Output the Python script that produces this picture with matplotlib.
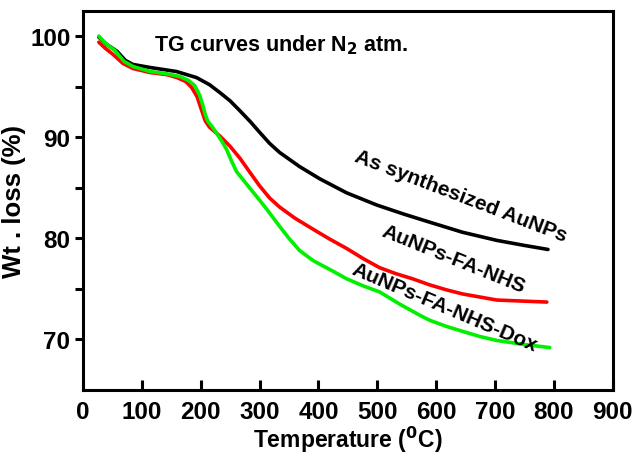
import numpy as np
import matplotlib.pyplot as plt

plt.rcParams['font.family'] = ['Liberation Sans', 'DejaVu Sans']
plt.rcParams['font.weight'] = 'bold'
plt.rcParams['mathtext.default'] = 'bf'

# As synthesized AuNPs
t_black = [27, 40, 58, 72, 85, 114, 159, 193, 215, 233, 250, 267, 285, 300, 317, 334, 351, 368,
           402, 448, 499, 545, 589, 645, 703, 750, 790]
w_black = [99.9, 99.2, 98.5, 97.6, 97.2, 96.9, 96.5, 95.9, 95.2, 94.4, 93.6, 92.6, 91.5, 90.5, 89.4,
           88.5, 87.8, 87.1, 85.9, 84.5, 83.3, 82.4, 81.6, 80.6, 79.8, 79.3, 78.9]

# AuNPs-FA-NHS
t_red = [27, 38, 51, 68, 85, 114, 142, 160, 175, 185, 194, 202, 208, 215, 233, 250, 267, 284, 300,
         317, 334, 360, 391, 420, 448, 476, 504, 532, 560, 589, 618, 645, 674, 703, 745, 788]
w_red = [99.4, 98.8, 98.2, 97.3, 96.8, 96.4, 96.2, 95.9, 95.5, 94.9, 94.0, 92.6, 91.6, 91.0, 90.1,
         89.1, 87.9, 86.5, 85.2, 84.0, 83.1, 82.0, 80.9, 79.9, 79.0, 78.0, 77.1, 76.5, 76.0, 75.4,
         74.9, 74.5, 74.2, 73.9, 73.8, 73.7]

# AuNPs-FA-NHS-Dox
t_green = [27, 38, 54, 70, 85, 114, 140, 165, 180, 190, 198, 204, 208, 212, 220, 227, 236, 244, 252,
           261, 272, 283, 297, 312, 334, 350, 368, 391, 420, 448, 476, 504, 538, 572, 589, 617, 645,
           674, 703, 750, 793]
w_green = [100.0, 99.3, 98.6, 97.5, 97.0, 96.5, 96.3, 96.0, 95.6, 95.1, 94.2, 93.1, 92.2, 91.6, 91.0,
           90.4, 89.6, 88.8, 87.7, 86.6, 85.8, 85.0, 84.0, 82.9, 81.2, 80.0, 78.8, 77.8, 76.9, 76.0,
           75.3, 74.7, 73.5, 72.4, 71.9, 71.3, 70.8, 70.3, 69.9, 69.5, 69.2]

labels = ["As synthesized AuNPs", "AuNPs-FA-NHS", "AuNPs-FA-NHS-Dox"]

fig = plt.figure(figsize=(6.33, 4.56), dpi=100)
ax = fig.add_axes([0.131, 0.1425, 0.837, 0.8315])

kw = dict(lw=2.6, solid_capstyle='round', solid_joinstyle='round')
ax.plot(t_black, w_black, color='black', **kw)
ax.plot(t_red, w_red, color='#ff0000', **kw)
ax.plot(t_green, w_green, color='#00f000', **kw)

ax.set_xlim(0, 900)
ax.set_ylim(65, 102.5)
ax.set_xticks(np.arange(0, 901, 100))
ax.set_yticks([70, 80, 90, 100])
ax.set_yticks([75, 85, 95], minor=True)

for s in ax.spines.values():
    s.set_linewidth(2.2)
ax.tick_params(axis='x', direction='in', length=7, width=2.2, labelsize=17.5, pad=7, top=False)
ax.tick_params(axis='y', which='both', direction='out', length=6, width=2.2, labelsize=17.5,
               right=False, pad=3)

ax.set_xlabel("Temperature ($^0$C)", fontsize=16.5, fontweight='bold', labelpad=1)
ax.set_ylabel("Wt . loss (%)", fontsize=18.5, fontweight='bold')
ax.yaxis.set_label_coords(-0.108, 0.5)

ax.text(120, 99.2, "TG curves under N$_2$ atm.", fontsize=15.5, fontweight='bold', va='center')

ax.text(642, 84.2, labels[0], fontsize=15, fontweight='bold', rotation=-21,
        ha='center', va='center', rotation_mode='anchor')
ax.text(630, 78.0, labels[1], fontsize=15, fontweight='bold', rotation=-22,
        ha='center', va='center', rotation_mode='anchor')
ax.text(615, 73.2, labels[2], fontsize=15, fontweight='bold', rotation=-23,
        ha='center', va='center', rotation_mode='anchor')

fig.savefig("out.png", dpi=100)
